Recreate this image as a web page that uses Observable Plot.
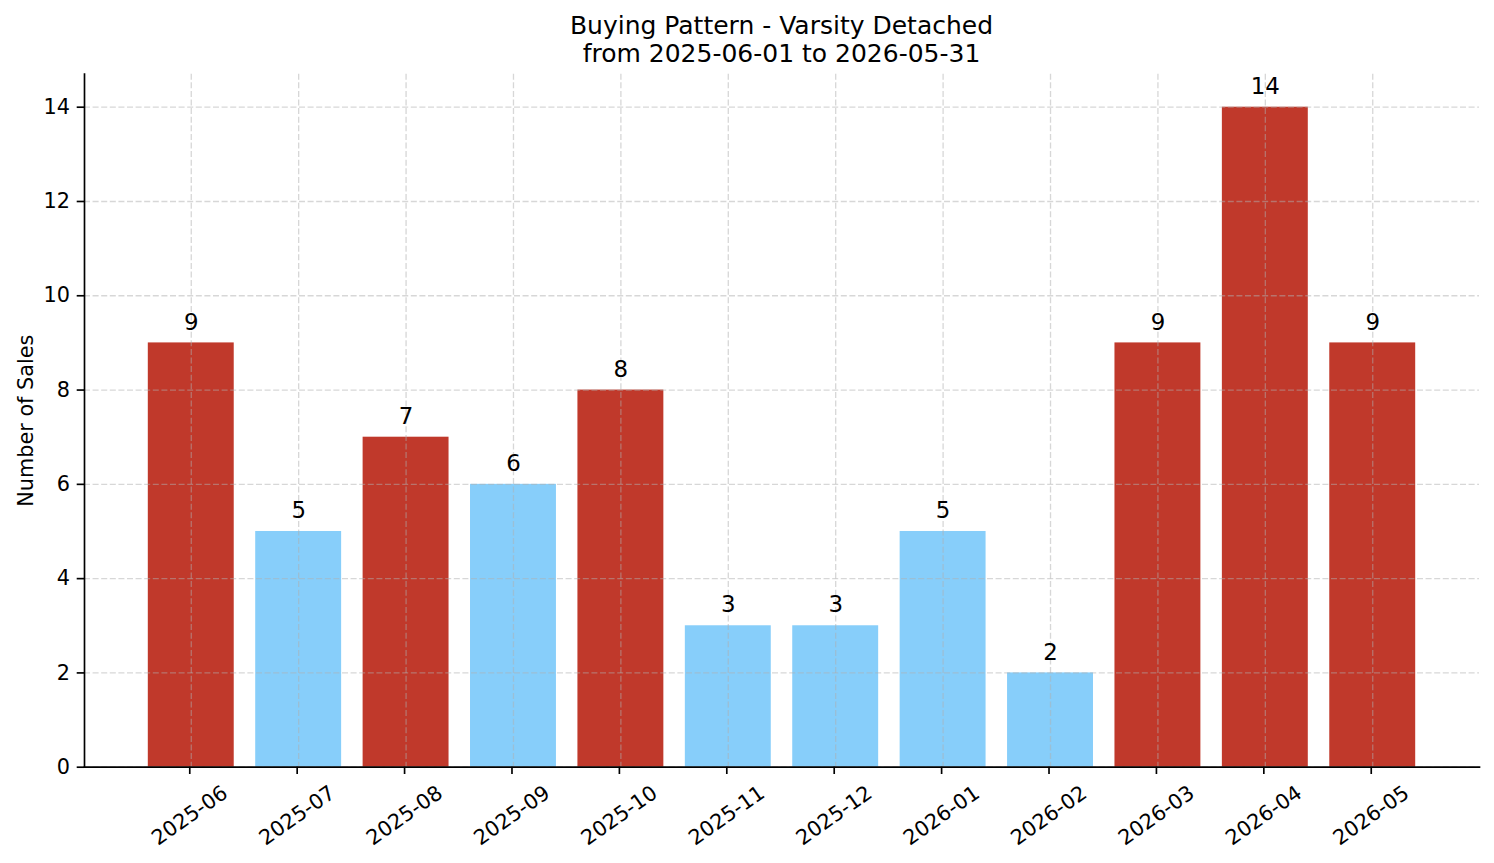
<!DOCTYPE html>
<html>
<head>
<meta charset="utf-8">
<script src="https://cdn.jsdelivr.net/npm/d3@7"></script>
<script src="https://cdn.jsdelivr.net/npm/@observablehq/plot@0.6"></script>
<style>
html, body { margin: 0; padding: 0; background: #fff; }
#wrap { width: 1494px; }
#title { position: relative; width: 1494px; height: 70px; font-family: "DejaVu Sans"; font-size: 25px; color: #000; }
#title div { position: absolute; left: 781.5px; transform: translateX(-50%); white-space: nowrap; line-height: 25px; }
#t1 { top: 13.1px; }
#t2 { top: 41.1px; }
</style>
</head>
<body>
<div id="wrap">
  <div id="title">
    <div id="t1">Buying Pattern - Varsity Detached</div>
    <div id="t2">from 2025-06-01 to 2026-05-31</div>
  </div>
  <div id="chart"></div>
</div>
<script>
// ---- data ----
const months = ["2025-06", "2025-07", "2025-08", "2025-09", "2025-10", "2025-11",
                "2025-12", "2026-01", "2026-02", "2026-03", "2026-04", "2026-05"];
const sales = [9, 5, 7, 6, 8, 3, 3, 5, 2, 9, 14, 9];
const level = ["high", "low", "high", "low", "high", "low",
               "low", "low", "low", "high", "high", "high"];
const yTicks = [0, 2, 4, 6, 8, 10, 12, 14];
const yLabel = "Number of Sales";

const rows = months.map((m, i) => ({month: m, count: sales[i], level: level[i]}));

const gridStyle = {stroke: "#b0b0b0", strokeOpacity: 0.5, strokeWidth: 1.3, strokeDasharray: "6,2.6"};

const chart = Plot.plot({
  width: 1494,
  height: 793,
  marginTop: 3.7,
  marginBottom: 96.3,
  marginLeft: 84,
  marginRight: 15,
  style: {fontFamily: "DejaVu Sans", fontSize: "20.8px", color: "#000", background: "#fff", overflow: "visible"},
  x: {type: "band", domain: months, paddingInner: 0.2, paddingOuter: 0.594, align: 0.5, round: false, label: null},
  y: {domain: [0, 14.7], label: null},
  color: {domain: ["high", "low"], range: ["#c0392b", "#87cefa"]},
  marks: [
    Plot.barY(rows, {x: "month", y: "count", fill: "level"}),
    Plot.gridX(months, {...gridStyle}),
    Plot.gridY(yTicks, {...gridStyle}),
    Plot.text(rows, {x: "month", y: "count", text: d => String(d.count), lineAnchor: "bottom", dy: -13.3, fontSize: 22.9, fill: "#000"}),
    Plot.axisY(yTicks, {tickSize: 7.3, tickPadding: 7.3, strokeWidth: 1.67, stroke: "#000", fill: "#000", fontSize: 20.8, label: null}),
    Plot.axisX(months, {tickSize: 7.3, tickPadding: 41, tickRotate: -35, textAnchor: "middle", lineAnchor: "middle", dx: -1.5, strokeWidth: 1.67, stroke: "#000", fill: "#000", fontSize: 20.8, label: null}),
    Plot.text([yLabel], {frameAnchor: "left", dx: -52, rotate: -90, lineAnchor: "bottom", textAnchor: "middle", fontSize: 20.8, fill: "#000"}),
    Plot.frame({anchor: "left", stroke: "#000", strokeWidth: 1.67}),
    Plot.frame({anchor: "bottom", stroke: "#000", strokeWidth: 1.67})
  ]
});
document.getElementById("chart").appendChild(chart);
</script>
</body>
</html>
